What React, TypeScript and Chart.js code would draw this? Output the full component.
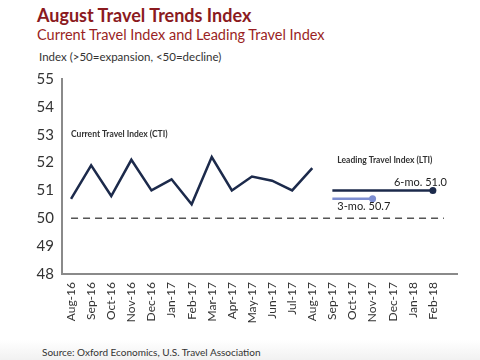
import { useEffect, useRef } from "react";
import { Chart, registerables } from "chart.js";

Chart.register(...registerables);

const monthLabels = [
  "Aug-16", "Sep-16", "Oct-16", "Nov-16", "Dec-16", "Jan-17", "Feb-17",
  "Mar-17", "Apr-17", "May-17", "Jun-17", "Jul-17", "Aug-17", "Sep-17",
  "Oct-17", "Nov-17", "Dec-17", "Jan-18", "Feb-18",
];
const ctiMonths = monthLabels.slice(0, 13);
const ctiValues = [50.7, 51.9, 50.8, 52.1, 51.0, 51.4, 50.5, 52.2, 51.0, 51.5, 51.35, 51.0, 51.8];
const lti6Months = ["Sep-17", "Oct-17", "Nov-17", "Dec-17", "Jan-18", "Feb-18"];
const lti6Values = [51.0, 51.0, 51.0, 51.0, 51.0, 51.0];
const lti3Months = ["Sep-17", "Oct-17", "Nov-17"];
const lti3Values = [50.7, 50.7, 50.7];
const yTickValues = [48, 49, 50, 51, 52, 53, 54, 55];
const baselineValue = 50;

const NAVY = "#1c2a4b";
const PERI = "#7d8ed2";
const FONT = "Lato";

const toPoints = (months: string[], values: number[]) =>
  months.map((m, i) => ({ x: monthLabels.indexOf(m), y: values[i] }));

const lastDot = (r: number) => (ctx: any) =>
  ctx.dataIndex === ctx.dataset.data.length - 1 ? r : 0;

const overlayPlugin = {
  id: "overlay",
  beforeDatasetsDraw(chart: any) {
    const { ctx, scales } = chart;
    const x = scales.x;
    const y = scales.y;
    const py = y.getPixelForValue(baselineValue);
    ctx.save();
    ctx.setLineDash([7, 5]);
    ctx.strokeStyle = "#555";
    ctx.lineWidth = 1.5;
    ctx.beginPath();
    ctx.moveTo(x.getPixelForValue(0), py);
    ctx.lineTo(x.getPixelForValue(monthLabels.length - 0.45), py);
    ctx.stroke();
    ctx.restore();
  },
  afterDatasetsDraw(chart: any) {
    const { ctx, scales } = chart;
    const x = scales.x;
    const y = scales.y;
    ctx.save();
    ctx.textBaseline = "middle";
    ctx.fillStyle = "#333";
    ctx.font = `bold 8.5px ${FONT}`;
    ctx.textAlign = "left";
    ctx.fillText("Current Travel Index (CTI)", x.getPixelForValue(0), y.getPixelForValue(53));
    const ltiStart = x.getPixelForValue(monthLabels.indexOf(lti6Months[0]));
    const v6 = lti6Values[lti6Values.length - 1];
    const v3 = lti3Values[lti3Values.length - 1];
    ctx.fillText("Leading Travel Index (LTI)", ltiStart + 5, y.getPixelForValue(v6) - 30);
    ctx.fillStyle = "#222";
    ctx.font = `11px ${FONT}`;
    ctx.textAlign = "right";
    ctx.fillText(`6-mo. ${v6.toFixed(1)}`, x.getPixelForValue(monthLabels.length - 1) + 14, y.getPixelForValue(v6) - 8);
    ctx.textAlign = "left";
    ctx.fillText(`3-mo. ${v3.toFixed(1)}`, ltiStart + 5, y.getPixelForValue(v3) + 8);
    ctx.restore();
  },
};

export default function App() {
  const ref = useRef<HTMLCanvasElement | null>(null);

  useEffect(() => {
    if (!ref.current) return;
    const chart = new Chart(ref.current, {
      type: "line",
      data: {
        datasets: [
          {
            label: "CTI",
            data: toPoints(ctiMonths, ctiValues),
            borderColor: NAVY,
            borderWidth: 2.5,
            pointRadius: 0,
            tension: 0,
          },
          {
            label: "LTI 6-mo",
            data: toPoints(lti6Months, lti6Values),
            borderColor: NAVY,
            backgroundColor: NAVY,
            borderWidth: 2.5,
            pointRadius: lastDot(3.5),
            pointBorderWidth: 0,
          },
          {
            label: "LTI 3-mo",
            data: toPoints(lti3Months, lti3Values),
            borderColor: PERI,
            backgroundColor: PERI,
            borderWidth: 2.5,
            pointRadius: lastDot(3.5),
            pointBorderWidth: 0,
          },
        ],
      },
      options: {
        animation: false,
        responsive: false,
        layout: { padding: { top: 19, right: 23, left: 0, bottom: 0 } },
        plugins: { legend: { display: false }, tooltip: { enabled: false } },
        scales: {
          x: {
            type: "linear",
            min: -0.45,
            max: 19.2,
            afterBuildTicks: (scale: any) => {
              scale.ticks = monthLabels.map((_, i) => ({ value: i }));
            },
            afterFit: (scale: any) => {
              scale.height = 66;
            },
            grid: { display: false, drawTicks: false },
            border: { display: true, color: "#8a8a8a", width: 2 },
            ticks: {
              autoSkip: false,
              maxRotation: 90,
              minRotation: 90,
              padding: 8,
              color: "#333",
              font: { family: FONT, size: 12 },
              callback: (v: any) => monthLabels[v] ?? "",
            },
          },
          y: {
            min: yTickValues[0],
            max: yTickValues[yTickValues.length - 1],
            afterBuildTicks: (scale: any) => {
              scale.ticks = yTickValues.map((v) => ({ value: v }));
            },
            afterFit: (scale: any) => {
              scale.width = 62;
            },
            grid: { display: false, drawTicks: false },
            border: { display: true, color: "#8a8a8a", width: 2 },
            ticks: {
              padding: 8,
              color: "#333",
              font: { family: FONT, size: 15 },
            },
          },
        },
      },
      plugins: [overlayPlugin],
    });
    return () => chart.destroy();
  }, []);

  return (
    <div
      style={{
        position: "fixed",
        left: 0,
        top: 0,
        width: 480,
        height: 360,
        background: "#fff",
        overflow: "hidden",
        fontFamily: FONT,
      }}
    >
      <div style={{ position: "absolute", left: 37, top: 4, fontSize: 18, fontWeight: 700, color: "#8b1a1e", lineHeight: "22px", whiteSpace: "nowrap" }}>
        August Travel Trends Index
      </div>
      <div style={{ position: "absolute", left: 37, top: 26, fontSize: 14.5, color: "#9a1f24", lineHeight: "18px", whiteSpace: "nowrap" }}>
        Current Travel Index and Leading Travel Index
      </div>
      <div style={{ position: "absolute", left: 39, top: 49, fontSize: 11.5, color: "#333", lineHeight: "16px", whiteSpace: "nowrap" }}>
        Index (&gt;50=expansion, &lt;50=decline)
      </div>
      <canvas ref={ref} width={480} height={280} style={{ position: "absolute", left: 0, top: 60, width: 480, height: 280 }} />
      <div style={{ position: "absolute", left: 0, top: 340, width: 480, height: 20, background: "linear-gradient(#fff, #f1f1f1)" }} />
      <div style={{ position: "absolute", left: 42, top: 345, fontSize: 10, color: "#333", lineHeight: "14px", whiteSpace: "nowrap" }}>
        Source: Oxford Economics, U.S. Travel Association
      </div>
    </div>
  );
}
